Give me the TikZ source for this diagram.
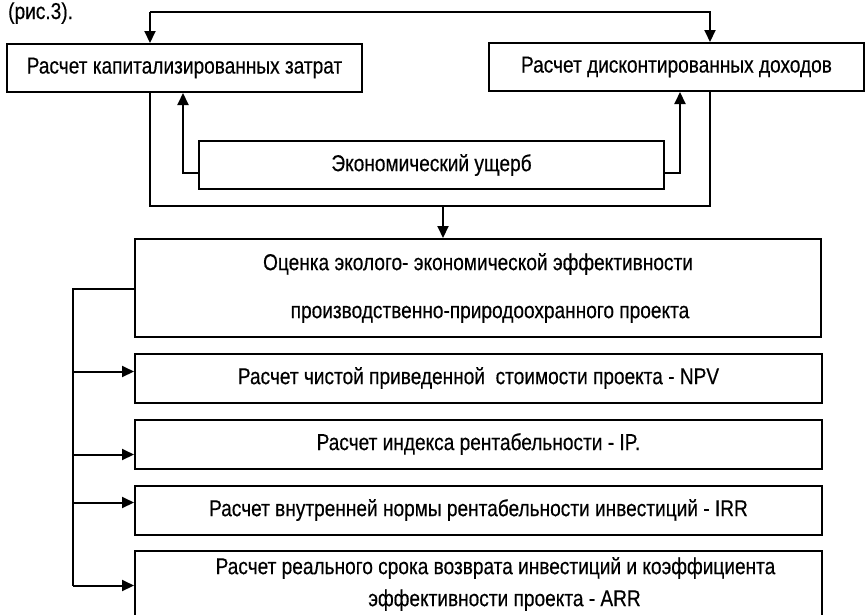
\documentclass[tikz,border=0pt]{standalone}
\usepackage{fontspec}
\setmainfont[FakeStretch=0.83,FakeBold=0.4]{Liberation Sans}
\usetikzlibrary{arrows.meta}
\newcount\mycount

\begin{document}
\begin{tikzpicture}[x=1pt,y=-1pt,
  box/.style={draw,line width=2pt,inner sep=0pt,minimum height=48pt,
    font=\fontsize{23}{27}\selectfont,align=center},
  feed/.style={line width=2pt,-{Triangle[length=12pt,width=11pt]}},
  line/.style={line width=2pt}]
\useasboundingbox (0,0) rectangle (867,614);
\node[anchor=base west,inner sep=0pt,font=\fontsize{23}{27}\selectfont] (fig) at (8,19) {(рис.3).};

% top row
\node[box,minimum width=355pt] (kap) at (184.5,68) {Расчет капитализированных затрат};
\node[box,minimum width=375pt] (disk) at (676.5,67) {Расчет дисконтированных доходов};
\node[box,minimum width=465pt] (loss) at (431.5,165) {Экономический ущерб};
\node[box,minimum width=686pt,minimum height=98pt] (eval) at (478,288)
  {Оценка эколого- экономической эффективности\\[21pt]\hspace*{24pt}производственно-природоохранного проекта};

% result boxes, 66pt apart
\foreach \text [count=\number] in {{Расчет чистой приведенной~ стоимости проекта - NPV},
  {Расчет индекса рентабельности - IP.},
  {Расчет внутренней нормы рентабельности инвестиций - IRR}}{
 \mycount=\number
 \multiply\mycount by 66
 \advance\mycount by 312
 \node[box,minimum width=687pt,minimum height=49pt] (R-\number) at (478.5,\the\mycount) {\text};
}
\node[box,minimum width=687pt,minimum height=66pt] (R-4) at (478.5,584)
  {\hspace*{34pt}Расчет реального срока возврата инвестиций и коэффициента\\[5pt]\hspace*{52pt}эффективности проекта - ARR};

% connectors
\coordinate (top-1) at (150,12);
\coordinate (top-2) at (710,12);
\coordinate (join) at (443,206);
\draw[feed] (top-1) -- (top-2) -- (disk.north -| top-2);
\draw[feed] (top-1) -- (kap.north -| top-1);
\draw[line] (kap.south -| top-1) |- (join) -| (disk.south -| top-2);
\draw[feed] (join) -- (eval.north -| join);
\draw[feed] ([yshift=-8pt]loss.west) -| ([xshift=-1.5pt]kap.south);
\draw[feed] ([yshift=-8pt]loss.east) -| ([xshift=3.5pt]disk.south);

\coordinate (bus) at (73,289);
\coordinate (bus-end) at (73,585.5);
\draw[line] (eval.west |- bus) -- (bus) -- (bus-end);
\foreach \number/\dy in {1/6.5,2/-10.5,3/7.5,4/-1.5}
 \draw[feed] ([yshift=\dy pt]bus |- R-\number.west) -- ([yshift=\dy pt]R-\number.west);
\end{tikzpicture}
\end{document}
